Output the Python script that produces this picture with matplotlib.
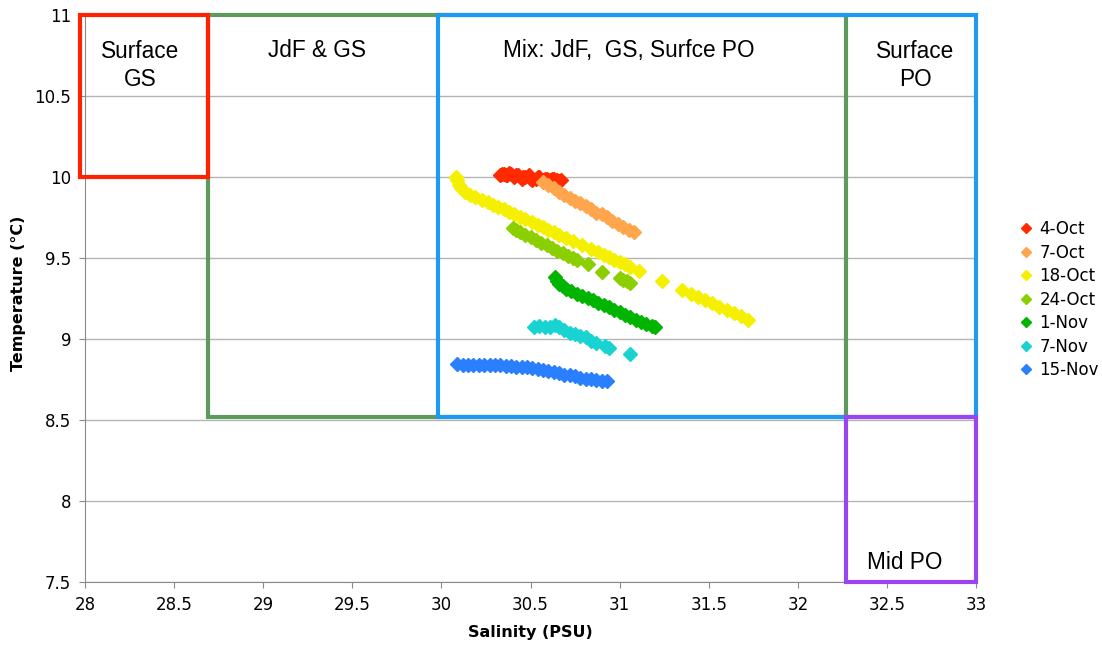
import matplotlib.pyplot as plt
from matplotlib.patches import Rectangle

# survey dates
labels = ['4-Oct', '7-Oct', '18-Oct', '24-Oct', '1-Nov', '7-Nov', '15-Nov']
colors = ['#FF2A00', '#FFA64D', '#F5F000', '#8CCF00', '#00B400', '#19D3D3', '#2A7FFF']

# salinity (PSU) / temperature (C)
sal_4oct = [30.33, 30.34, 30.35, 30.36, 30.37, 30.38, 30.39, 30.41, 30.42, 30.43,
            30.45, 30.46, 30.47, 30.49, 30.50, 30.51, 30.53, 30.54, 30.55, 30.57,
            30.58, 30.59, 30.61, 30.62, 30.63, 30.65, 30.66, 30.67]
tmp_4oct = [10.01, 10.02, 10.02, 10.01, 10.01, 10.025, 10.02, 10.0, 10.01, 10.01,
            9.99, 10.0, 10.0, 10.01, 9.99, 9.98, 9.99, 10.0, 10.0, 9.98,
            9.99, 9.99, 9.98, 9.985, 9.99, 9.98, 9.975, 9.98]

sal_7oct = [30.57, 30.60, 30.63, 30.66, 30.69, 30.72, 30.75, 30.78, 30.81, 30.84,
            30.87, 30.90, 30.93, 30.96, 30.99, 31.02, 31.05, 31.08]
tmp_7oct = [9.97, 9.95, 9.93, 9.91, 9.89, 9.87, 9.85, 9.84, 9.82, 9.80,
            9.78, 9.77, 9.75, 9.73, 9.71, 9.69, 9.67, 9.66]

sal_18oct = [30.08, 30.09, 30.10, 30.11, 30.13, 30.16, 30.19, 30.23, 30.26, 30.29,
             30.32, 30.35, 30.38, 30.41, 30.44, 30.47, 30.51, 30.54, 30.57, 30.60,
             30.63, 30.66, 30.70, 30.74, 30.79, 30.84, 30.88, 30.91, 30.94, 30.97,
             31.00, 31.03, 31.06, 31.11, 31.24, 31.35, 31.40, 31.44, 31.48, 31.52,
             31.56, 31.60, 31.64, 31.68, 31.72]
tmp_18oct = [10.00, 9.98, 9.95, 9.93, 9.91, 9.89, 9.875, 9.86, 9.845, 9.83,
             9.815, 9.80, 9.785, 9.77, 9.755, 9.74, 9.72, 9.705, 9.69, 9.675,
             9.66, 9.645, 9.625, 9.605, 9.58, 9.555, 9.535, 9.52, 9.505, 9.49,
             9.475, 9.46, 9.445, 9.42, 9.355, 9.30, 9.28, 9.26, 9.24, 9.22,
             9.20, 9.18, 9.16, 9.14, 9.12]

sal_24oct = [30.40, 30.42, 30.44, 30.47, 30.50, 30.53, 30.56, 30.59, 30.62, 30.65,
             30.68, 30.71, 30.74, 30.76, 30.82, 30.90, 31.00, 31.02, 31.04, 31.06]
tmp_24oct = [9.685, 9.67, 9.66, 9.645, 9.63, 9.61, 9.595, 9.58, 9.56, 9.545,
             9.53, 9.515, 9.50, 9.49, 9.465, 9.415, 9.375, 9.365, 9.355, 9.345]

sal_1nov = [30.64, 30.65, 30.66, 30.68, 30.70, 30.73, 30.76, 30.79, 30.82, 30.85,
            30.88, 30.91, 30.94, 30.97, 31.00, 31.03, 31.06, 31.09, 31.12, 31.15,
            31.18, 31.20]
tmp_1nov = [9.38, 9.36, 9.34, 9.325, 9.31, 9.295, 9.28, 9.265, 9.25, 9.24,
            9.225, 9.21, 9.195, 9.18, 9.165, 9.15, 9.135, 9.12, 9.105, 9.095,
            9.08, 9.075]

sal_7nov = [30.52, 30.55, 30.58, 30.61, 30.64, 30.66, 30.69, 30.72, 30.75, 30.78,
            30.81, 30.84, 30.87, 30.92, 30.94, 31.06]
tmp_7nov = [9.075, 9.08, 9.075, 9.075, 9.085, 9.075, 9.055, 9.04, 9.03, 9.02,
            9.01, 8.99, 8.975, 8.955, 8.945, 8.905]

sal_15nov = [30.09, 30.12, 30.15, 30.18, 30.21, 30.24, 30.27, 30.30, 30.33, 30.36,
             30.39, 30.42, 30.45, 30.48, 30.51, 30.54, 30.57, 30.60, 30.63, 30.66,
             30.69, 30.72, 30.75, 30.78, 30.81, 30.84, 30.87, 30.90, 30.93]
tmp_15nov = [8.845, 8.84, 8.84, 8.84, 8.84, 8.84, 8.84, 8.84, 8.84, 8.835,
             8.835, 8.83, 8.83, 8.825, 8.82, 8.815, 8.81, 8.80, 8.795, 8.79,
             8.78, 8.775, 8.77, 8.76, 8.755, 8.75, 8.745, 8.74, 8.74]

sal = [sal_4oct, sal_7oct, sal_18oct, sal_24oct, sal_1nov, sal_7nov, sal_15nov]
tmp = [tmp_4oct, tmp_7oct, tmp_18oct, tmp_24oct, tmp_1nov, tmp_7nov, tmp_15nov]

# water mass boxes
box_names = ['Surface\nGS', 'JdF & GS', 'Mix: JdF,  GS, Surfce PO', 'Surface\nPO', 'Mid PO']
box_sal = [(27.97, 28.69), (28.69, 32.27), (29.98, 33.0), (32.27, 33.0), (32.27, 33.0)]
box_tmp = [(10.0, 11.0), (8.52, 11.0), (8.52, 11.0), (8.52, 11.0), (7.5, 8.52)]
box_colors = ['#FF2200', '#5E9A5E', '#1E9AF0', None, '#9B45F0']
box_text_pos = [(28.31, 10.69), (29.30, 10.78), (31.05, 10.78), (32.66, 10.69), (32.6, 7.62)]

fig = plt.figure(figsize=(11.02, 6.47), dpi=100)
ax = fig.add_axes([0.0771, 0.1005, 0.8086, 0.8763])

ax.set_xlim(28, 33)
ax.set_ylim(7.5, 11)
ax.set_xticks([28 + 0.5 * i for i in range(11)])
ax.set_xticklabels(['28', '28.5', '29', '29.5', '30', '30.5', '31', '31.5', '32', '32.5', '33'])
ax.set_yticks([7.5 + 0.5 * i for i in range(8)])
ax.set_yticklabels(['7.5', '8', '8.5', '9', '9.5', '10', '10.5', '11'])
ax.yaxis.grid(True, color='#B4B4B4', lw=1)
ax.set_axisbelow(True)
for s in ['top', 'right']:
    ax.spines[s].set_visible(False)
for s in ['left', 'bottom']:
    ax.spines[s].set_color('#8A8A8A')
ax.tick_params(labelsize=12, color='#8A8A8A', length=4, pad=6)

# boxes (green and blue first so red/purple sit on top)
for i in [1, 2, 0, 4]:
    (x0, x1), (y0, y1) = box_sal[i], box_tmp[i]
    ax.add_patch(Rectangle((x0, y0), x1 - x0, y1 - y0, fill=False,
                           ec=box_colors[i], lw=3, clip_on=False, zorder=3))
for name, (tx, ty) in zip(box_names, box_text_pos):
    ax.text(tx, ty, name, ha='center', va='center', fontsize=16.3,
            family='Liberation Sans', linespacing=1.3, zorder=4)

for x, y, c, lab in zip(sal, tmp, colors, labels):
    ax.plot(x, y, ls='none', marker='D', ms=7, color=c, mec=c, label=lab, zorder=5)

ax.set_xlabel('Salinity (PSU)', fontsize=11.5, fontweight='bold', labelpad=8)
ax.set_ylabel('Temperature (°C)', fontsize=11.5, fontweight='bold')
ax.yaxis.set_label_coords(-0.066, 0.51)

leg = fig.legend(loc='center left', bbox_to_anchor=(0.913, 0.537), frameon=False,
                 fontsize=12, handlelength=0.6, handletextpad=0.5, labelspacing=0.33,
                 markerscale=0.75)

fig.savefig('out.png', dpi=100)
